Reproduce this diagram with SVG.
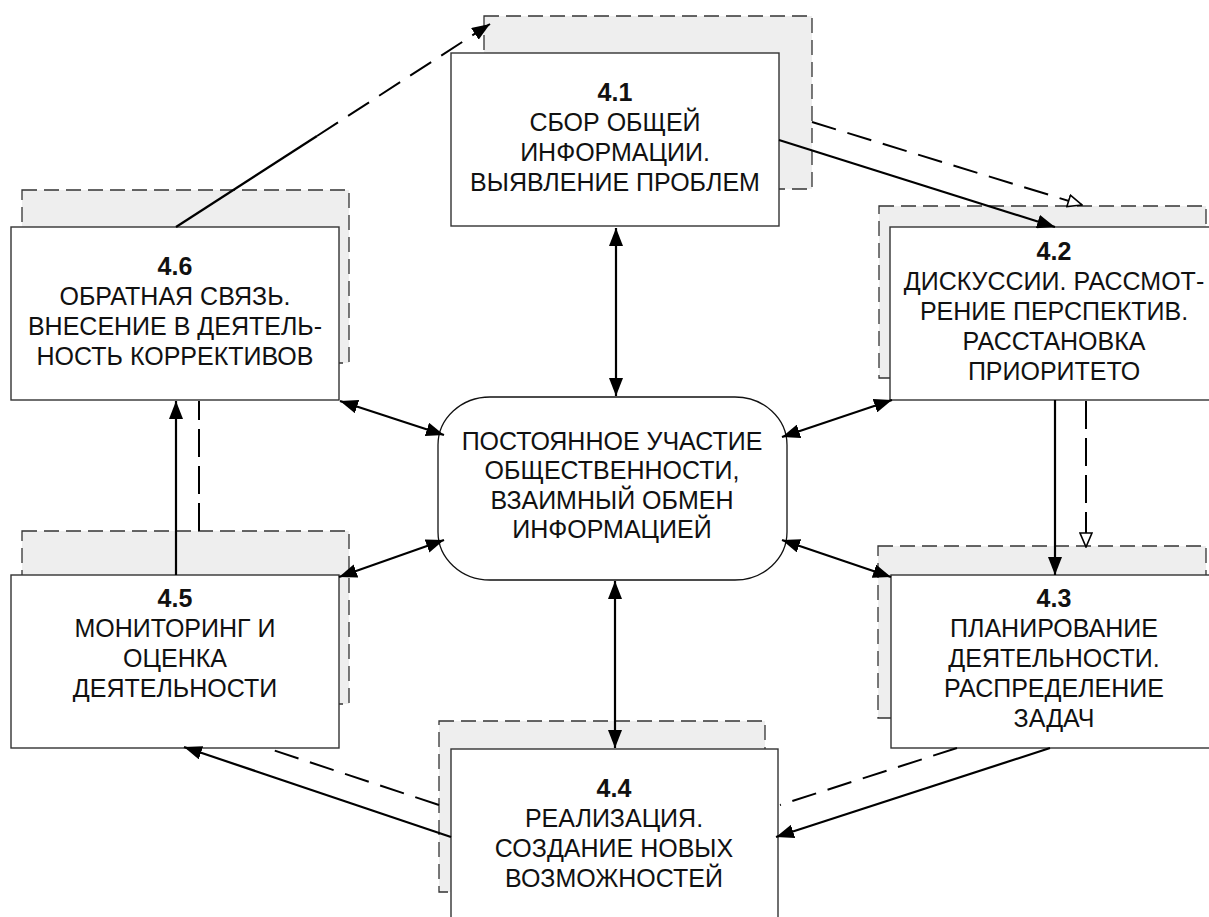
<svg xmlns="http://www.w3.org/2000/svg" width="1209" height="917" viewBox="0 0 1209 917">
<defs>
<style>
.shadow{fill:#eeeeee;stroke:#333;stroke-width:1.3;stroke-dasharray:15 7}
.box{fill:#fff;stroke:#333;stroke-width:1.4}
.center{fill:#fff;stroke:#111;stroke-width:1.3}
.t{font-family:"Liberation Sans",Arial,sans-serif;font-size:25px;fill:#111;text-anchor:middle}
.b{font-weight:bold}
.c{fill:none;stroke:#000;stroke-width:2.2}
.d{fill:none;stroke:#000;stroke-width:2;stroke-dasharray:25 12}
.dv{fill:none;stroke:#000;stroke-width:2;stroke-dasharray:28 9}
</style>
<marker id="ah" markerUnits="userSpaceOnUse" markerWidth="18" markerHeight="14" refX="18" refY="7" orient="auto-start-reverse" viewBox="0 0 18 14">
<path d="M0,0 L18,7 L0,14 Z" fill="#000"/>
</marker>
<marker id="oh" markerUnits="userSpaceOnUse" markerWidth="16" markerHeight="14" refX="15" refY="7" orient="auto" viewBox="0 0 16 14">
<path d="M1,1 L15,7 L1,13 Z" fill="#fff" stroke="#000" stroke-width="1.6"/>
</marker>
</defs>
<rect width="1209" height="917" fill="#fff"/>

<g id="node-4-1">
<rect class="shadow" x="484" y="16" width="328" height="173"/>
<rect class="box" x="451" y="53" width="328" height="173"/>
<text class="t b" x="615" y="101">4.1</text>
<text class="t" x="615" y="131">СБОР ОБЩЕЙ</text>
<text class="t" x="615" y="161">ИНФОРМАЦИИ.</text>
<text class="t" x="615" y="191">ВЫЯВЛЕНИЕ ПРОБЛЕМ</text>
</g>

<g id="node-4-2">
<rect class="shadow" x="879" y="206" width="327" height="172"/>
<rect class="box" x="890" y="227" width="330" height="173"/>
<text class="t b" x="1054" y="260">4.2</text>
<text class="t" x="1054" y="290">ДИСКУССИИ. РАССМОТ-</text>
<text class="t" x="1054" y="320">РЕНИЕ ПЕРСПЕКТИВ.</text>
<text class="t" x="1054" y="350">РАССТАНОВКА</text>
<text class="t" x="1054" y="380">ПРИОРИТЕТО</text>
</g>

<g id="node-4-3">
<rect class="shadow" x="878" y="546" width="328" height="172"/>
<rect class="box" x="891" y="575" width="330" height="173"/>
<text class="t b" x="1054" y="607">4.3</text>
<text class="t" x="1054" y="637">ПЛАНИРОВАНИЕ</text>
<text class="t" x="1054" y="667">ДЕЯТЕЛЬНОСТИ.</text>
<text class="t" x="1054" y="697">РАСПРЕДЕЛЕНИЕ</text>
<text class="t" x="1054" y="727">ЗАДАЧ</text>
</g>

<g id="node-4-4">
<rect class="shadow" x="439" y="721" width="326" height="171"/>
<rect class="box" x="451" y="749" width="327" height="180"/>
<text class="t b" x="614" y="797">4.4</text>
<text class="t" x="614" y="827">РЕАЛИЗАЦИЯ.</text>
<text class="t" x="614" y="857">СОЗДАНИЕ НОВЫХ</text>
<text class="t" x="614" y="887">ВОЗМОЖНОСТЕЙ</text>
</g>

<g id="node-4-5">
<rect class="shadow" x="22" y="531" width="327" height="173"/>
<rect class="box" x="11" y="575" width="328" height="173"/>
<text class="t b" x="175" y="607">4.5</text>
<text class="t" x="175" y="637">МОНИТОРИНГ И</text>
<text class="t" x="175" y="667">ОЦЕНКА</text>
<text class="t" x="175" y="697">ДЕЯТЕЛЬНОСТИ</text>
</g>

<g id="node-4-6">
<rect class="shadow" x="22" y="190" width="327" height="173"/>
<rect class="box" x="11" y="227" width="328" height="173"/>
<text class="t b" x="175" y="275">4.6</text>
<text class="t" x="175" y="305">ОБРАТНАЯ СВЯЗЬ.</text>
<text class="t" x="175" y="335">ВНЕСЕНИЕ В ДЕЯТЕЛЬ-</text>
<text class="t" x="175" y="365">НОСТЬ КОРРЕКТИВОВ</text>
</g>

<g id="node-center">
<rect class="center" x="438" y="397" width="349" height="183" rx="52" ry="48"/>
<text class="t" x="612" y="450">ПОСТОЯННОЕ УЧАСТИЕ</text>
<text class="t" x="612" y="479">ОБЩЕСТВЕННОСТИ,</text>
<text class="t" x="612" y="509">ВЗАИМНЫЙ ОБМЕН</text>
<text class="t" x="612" y="538">ИНФОРМАЦИЕЙ</text>
</g>

<g id="connectors">
<line class="c" x1="616" y1="228" x2="616" y2="396" marker-start="url(#ah)" marker-end="url(#ah)"/>
<line class="c" x1="615" y1="581" x2="615" y2="748" marker-start="url(#ah)" marker-end="url(#ah)"/>
<line class="c" x1="340" y1="401" x2="444" y2="435" marker-start="url(#ah)" marker-end="url(#ah)"/>
<line class="c" x1="444" y1="540" x2="339" y2="577" marker-start="url(#ah)" marker-end="url(#ah)"/>
<line class="c" x1="892" y1="400" x2="782" y2="437" marker-start="url(#ah)" marker-end="url(#ah)"/>
<line class="c" x1="782" y1="540" x2="891" y2="577" marker-start="url(#ah)" marker-end="url(#ah)"/>
<line class="c" x1="779" y1="140" x2="1055" y2="227" marker-end="url(#ah)"/>
<line class="d" x1="812" y1="122" x2="1082" y2="205" marker-end="url(#oh)"/>
<line class="c" x1="176" y1="227" x2="317" y2="136"/>
<line class="d" x1="317" y1="136" x2="490" y2="24" marker-end="url(#ah)"/>
<line class="c" x1="1055" y1="400" x2="1055" y2="575" marker-end="url(#ah)"/>
<line class="dv" x1="1086" y1="401" x2="1086" y2="547" marker-end="url(#oh)"/>
<line class="c" x1="1050" y1="748" x2="776" y2="837" marker-end="url(#ah)"/>
<line class="d" x1="957" y1="748" x2="780" y2="805"/>
<line class="c" x1="451" y1="837" x2="184" y2="747" marker-end="url(#ah)"/>
<line class="d" x1="439" y1="805" x2="267" y2="748"/>
<line class="c" x1="176" y1="575" x2="176" y2="401" marker-end="url(#ah)"/>
<line class="dv" x1="199" y1="531" x2="199" y2="401"/>
</g>
</svg>
